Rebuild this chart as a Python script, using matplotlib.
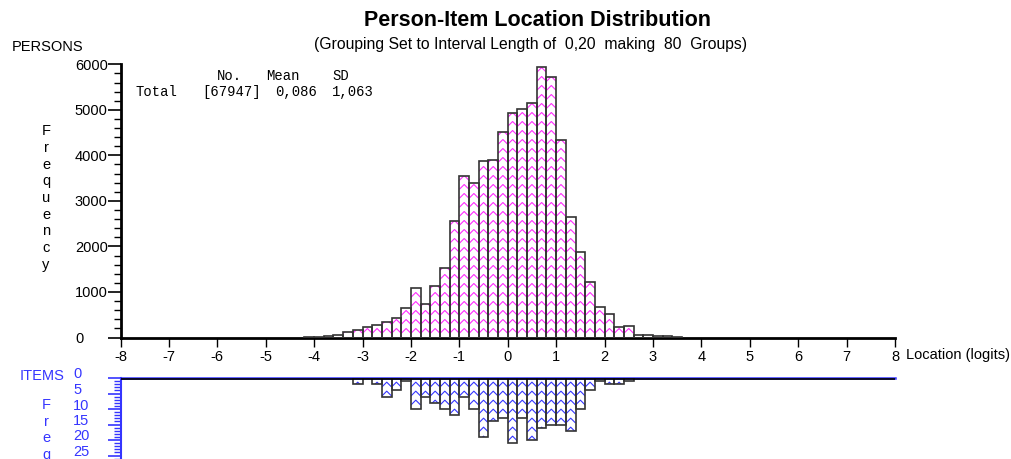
import matplotlib
matplotlib.use("Agg")
import matplotlib.pyplot as plt
import numpy as np
from matplotlib.collections import LineCollection
from matplotlib.ticker import MultipleLocator, NullFormatter
from matplotlib.transforms import blended_transform_factory, offset_copy

plt.rcParams['font.family'] = ['Liberation Sans', 'DejaVu Sans']

W, H = 1011, 459
BIN = 0.2
BLUE = '#3535ff'
MAGENTA = '#ff2bff'
FS = 10.5

# persons per 0.2 logit group, first group starts at -4.2
person_start = -4.2
person_counts = [10, 20, 25, 45, 110, 160, 235, 270, 340, 425,
                 645, 1080, 735, 1130, 1525, 2565, 3540, 3400, 3875, 3900,
                 4515, 4940, 5025, 5145, 5935, 5730, 4345, 2645, 1870, 1215,
                 670, 515, 230, 245, 62, 52, 40, 25, 10]

# items per 0.2 logit group, first group starts at -3.2
item_start = -3.2
item_counts = [2, 0, 2, 6, 4, 1, 10, 6, 8, 10,
               12, 6, 10, 19, 14, 13, 21, 13, 20, 16,
               15, 15, 17, 10, 4, 1, 2, 2, 1]

x_ticks = list(range(-8, 9))
person_yticks = [0, 1000, 2000, 3000, 4000, 5000, 6000]
item_yticks = [0, 5, 10, 15, 20, 25]

stats_head = ["No.", "Mean", "SD"]
stats_row = ["Total", "[67947]", "0,086", "1,063"]


def fx(px):
    return px / W


def fy(py):
    return 1 - py / H


def draw_hist(ax, start, counts, colour, down=False):
    lefts = start + BIN * np.arange(len(counts))
    bars = ax.bar(lefts, counts, width=BIN, align='edge', facecolor='none',
                  edgecolor='#333333', linewidth=1.2, zorder=3)
    # chevron hatch, roughly 45 deg and 9 px apart on screen
    p0 = ax.transData.transform((0, 0))
    p1 = ax.transData.transform((BIN, 1))
    px_x = (p1[0] - p0[0]) / BIN
    px_y = abs(p1[1] - p0[1])
    rise = (BIN / 2 * px_x) / px_y
    step = 9 / px_y
    sgn = -1 if down else 1
    for left, n, bar in zip(lefts, counts, bars):
        if n == 0:
            continue
        segs = []
        y = -rise if not down else 0
        while y < n + rise:
            segs.append([(left, y), (left + BIN / 2, y + sgn * rise), (left + BIN, y)])
            y += step
        lc = LineCollection(segs, colors=colour, linewidths=0.8, zorder=2)
        ax.add_collection(lc)
        # clip after adding, add_collection would reset it to the axes patch
        lc.set_clip_path(bar)


fig = plt.figure(figsize=(W / 100, H / 100), dpi=100)

# persons panel
ax = fig.add_axes([fx(120.5), fy(337.5), fx(895) - fx(120.5), fy(64.3) - fy(337.5)])
ax.set_xlim(-8, 8)
ax.set_ylim(0, 6000)
for s in ['top', 'right']:
    ax.spines[s].set_visible(False)
ax.spines['left'].set_linewidth(2)
ax.spines['bottom'].set_linewidth(2)
ax.set_xticks(x_ticks)
ax.set_xticklabels([str(t) for t in x_ticks])
ax.set_yticks(person_yticks)
ax.set_yticklabels([str(t) for t in person_yticks])
ax.yaxis.set_minor_locator(MultipleLocator(200))
ax.tick_params(axis='x', length=6.5, width=1, pad=2.5, labelsize=FS)
ax.tick_params(axis='y', which='major', length=9.4, width=1.2, pad=23.4, labelsize=FS)
ax.tick_params(axis='y', which='minor', length=5, width=1)
for lab in ax.get_yticklabels():
    lab.set_horizontalalignment('left')
draw_hist(ax, person_start, person_counts, MAGENTA)

# items panel
axi = fig.add_axes([fx(120.5), 0, fx(895) - fx(120.5), fy(378)])
axi.set_xlim(-8, 8)
axi.set_ylim((459 - 378) / 3.1, 0)
for s in ['bottom', 'right']:
    axi.spines[s].set_visible(False)
axi.spines['top'].set_color(BLUE)
axi.spines['top'].set_linewidth(1.8)
axi.spines['left'].set_color(BLUE)
axi.spines['left'].set_linewidth(1.5)
axi.axhline(0.4, color='black', lw=1.2, zorder=4)
axi.set_xticks([])
axi.set_yticks(item_yticks)
axi.yaxis.set_major_formatter(NullFormatter())
axi.yaxis.set_minor_locator(MultipleLocator(1))
axi.tick_params(axis='y', which='major', length=9.4, width=1.2, color=BLUE)
axi.tick_params(axis='y', which='minor', length=5, width=1, color=BLUE)
draw_hist(axi, item_start, item_counts, BLUE, down=True)

lab_tr = offset_copy(blended_transform_factory(fig.transFigure, axi.transData),
                     fig=fig, y=3.5, units='dots')
for v in item_yticks:
    axi.text(fx(73), v, str(v), transform=lab_tr, ha='left', va='center',
             fontsize=FS, color=BLUE, clip_on=False)

# texts
fig.text(fx(538), fy(20), "Person-Item Location Distribution", ha='center', va='center',
         fontsize=15.5, fontweight='bold')
fig.text(fx(531), fy(44), "(Grouping Set to Interval Length of  0,20  making  80  Groups)",
         ha='center', va='center', fontsize=11.3)
fig.text(fx(12), fy(47), "PERSONS", ha='left', va='center', fontsize=FS)
fig.text(fx(46), fy(198), "\n".join("Frequency"), ha='center', va='center',
         fontsize=FS, linespacing=1.24)
fig.text(fx(906), fy(355), "Location (logits)", ha='left', va='center', fontsize=FS)
fig.text(fx(20), fy(376), "ITEMS", ha='left', va='center', fontsize=FS, color=BLUE)
fig.text(fx(46), fy(398), "\n".join("Freq"), ha='center', va='top',
         fontsize=FS, linespacing=1.24, color=BLUE)

mono = dict(family=['Liberation Mono', 'DejaVu Sans Mono'], fontsize=10, va='center')
for txt, px in zip(stats_head, [217, 265.7, 332]):
    fig.text(fx(px), fy(76), txt, ha='left', **mono)
for txt, px in zip(stats_row, [135, 202, 275, 332]):
    fig.text(fx(px), fy(92), txt, ha='left', **mono)

fig.savefig('out.png', dpi=100)
